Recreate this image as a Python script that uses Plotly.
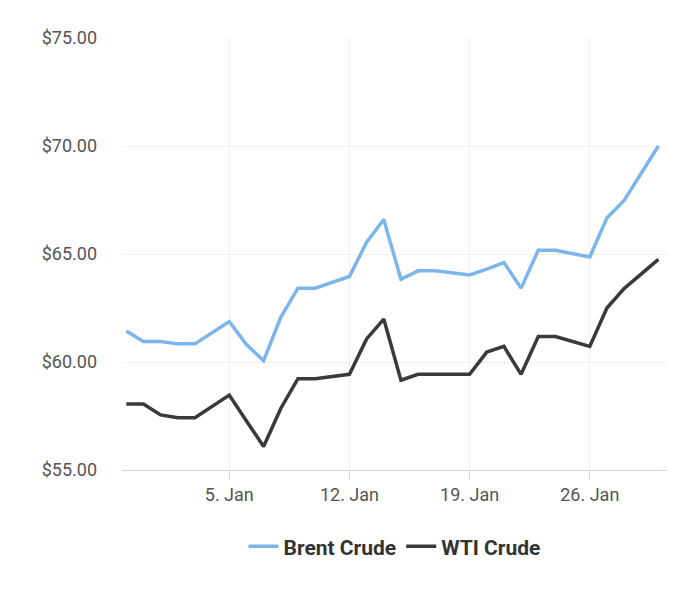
import plotly.graph_objects as go

dates = ["2025-12-30", "2025-12-31", "2026-01-01", "2026-01-02", "2026-01-03",
         "2026-01-05", "2026-01-06", "2026-01-07", "2026-01-08", "2026-01-09",
         "2026-01-10", "2026-01-12", "2026-01-13", "2026-01-14", "2026-01-15",
         "2026-01-16", "2026-01-17", "2026-01-19", "2026-01-20", "2026-01-21",
         "2026-01-22", "2026-01-23", "2026-01-24", "2026-01-26", "2026-01-27",
         "2026-01-28", "2026-01-30"]
brent = [61.43, 60.95, 60.95, 60.84, 60.84, 61.87, 60.81, 60.06, 62.07, 63.42,
         63.42, 63.96, 65.55, 66.6, 63.83, 64.22, 64.22, 64.03, 64.3, 64.6,
         63.42, 65.17, 65.17, 64.86, 66.67, 67.48, 70.0]
wti = [58.05, 58.05, 57.55, 57.42, 57.42, 58.47, 57.27, 56.09, 57.85, 59.23,
       59.23, 59.43, 61.07, 61.99, 59.16, 59.43, 59.43, 59.43, 60.46, 60.72,
       59.43, 61.18, 61.18, 60.72, 62.5, 63.4, 64.75]
tick_dates = ["2026-01-05", "2026-01-12", "2026-01-19", "2026-01-26"]
tick_labels = ["5. Jan", "12. Jan", "19. Jan", "26. Jan"]
y_ticks = [55, 60, 65, 70, 75]

fig = go.Figure()
fig.add_trace(go.Scatter(x=dates, y=brent, name="Brent Crude", mode="lines",
                         line=dict(color="#7cb5ec", width=3.5)))
fig.add_trace(go.Scatter(x=dates, y=wti, name="WTI Crude", mode="lines",
                         line=dict(color="#3a3a3c", width=3.5)))

fig.update_layout(
    width=700, height=593,
    margin=dict(l=114, r=41, t=30, b=131),
    paper_bgcolor="white", plot_bgcolor="white",
    font=dict(family="Roboto", size=18, color="#555"),
    xaxis=dict(type="date", range=["2025-12-29T18:00", "2026-01-30T12:00"],
               tickvals=tick_dates, ticktext=tick_labels,
               showgrid=True, gridcolor="#f0f0f0", showline=True,
               linecolor="#ccd6eb", ticks="outside", tickcolor="#ccd6eb",
               ticklen=8, tickfont=dict(color="#555")),
    yaxis=dict(range=[55, 75], tickvals=y_ticks,
               ticktext=["$%.2f" % v for v in y_ticks],
               showgrid=True, gridcolor="#f0f0f0", zeroline=False,
               ticks="", ticklabelstandoff=24),
    legend=dict(orientation="h", x=0.5, xanchor="center", y=-0.13,
                yanchor="top", font=dict(size=21, color="#333",
                                         family="Roboto", weight="bold")),
    showlegend=True,
)

fig.write_html("out.html")
